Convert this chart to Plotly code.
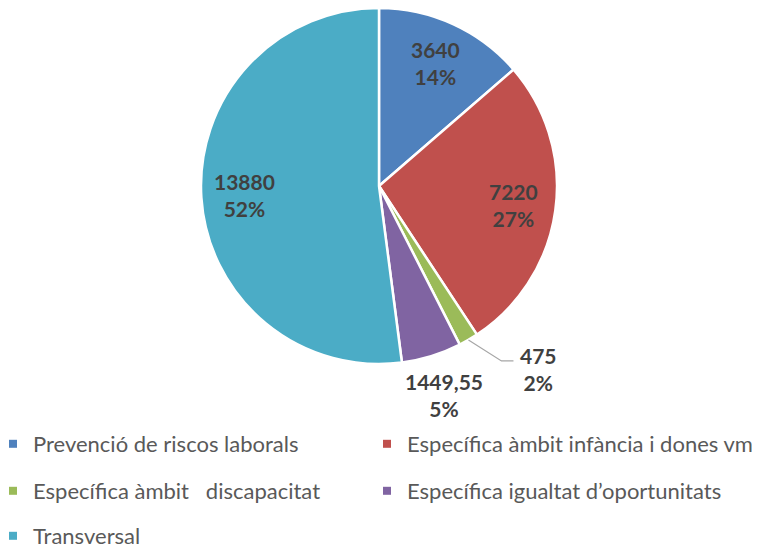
import math
import plotly.graph_objects as go

categories = [
    "Prevenció de riscos laborals",
    "Específica àmbit infància i dones vm",
    "Específica àmbit   discapacitat",
    "Específica igualtat d’oportunitats",
    "Transversal",
]
values = [3640, 7220, 475, 1449.55, 13880]
colors = ["#4F81BD", "#C0504D", "#9BBB59", "#8064A2", "#4BACC6"]

W, H = 760, 549
OFF = 8  # page offset of the figure inside the browser window
CX, CY, R = 379, 186, 178  # pie centre / radius in window pixels

def px(x):
    return (x - OFF) / W

def py(y):
    return 1 - (y - OFF) / H

fig = go.Figure()
fig.add_trace(go.Pie(
    labels=categories,
    values=values,
    sort=False,
    direction="clockwise",
    rotation=0,
    marker=dict(colors=colors, line=dict(color="white", width=2.5)),
    textinfo="none",
    showlegend=False,
    domain=dict(x=[px(CX - R), px(CX + R)], y=[py(CY + R), py(CY - R)]),
    hoverinfo="label+value+percent",
))

# data labels placed along each slice's mid-angle
total = sum(values)
label_font = dict(family="Lato", size=21, color="#404040")
cum = 0
for i, v in enumerate(values):
    mid = (cum + v / 2) / total * 2 * math.pi
    cum += v
    dx, dy = math.sin(mid), -math.cos(mid)
    txt = "<b>%s</b><br><b>%d%%</b>" % (("%g" % v).replace(".", ","), round(v / total * 100))
    common = dict(showarrow=False, font=label_font, xref="paper", yref="paper",
                  yanchor="middle")
    if v / total > 0.1:
        k = 0.76
        fig.add_annotation(x=px(CX + k * R * dx), y=py(CY + k * R * dy), text=txt,
                           xanchor="center", **common)
    elif v / total > 0.03:
        k = 1.23
        fig.add_annotation(x=px(CX + k * R * dx), y=py(CY + k * R * dy), text=txt,
                           xanchor="center", **common)
    else:
        x0, y0 = CX + R * dx, CY + R * dy
        x1, y1 = x0 + 33, y0 + 21
        x2 = x1 + 12
        fig.add_shape(type="path", xref="paper", yref="paper",
                      path="M %f %f L %f %f L %f %f" % (px(x0), py(y0), px(x1), py(y1), px(x2), py(y1)),
                      line=dict(color="#A6A6A6", width=1.2))
        fig.add_annotation(x=px(x2 + 5), y=py(y1 + 8), text=txt, xanchor="left", **common)

# legend entries: two columns, three rows
legend_ids = ["legend", "legend2", "legend3", "legend4", "legend5"]
legend_x = [0, 374, 0, 374, 0]          # figure pixels
legend_y = [444, 444, 491, 491, 536]    # window pixels
for name, col, leg in zip(categories, colors, legend_ids):
    fig.add_trace(go.Scatter(
        x=[None], y=[None], mode="markers", name=name,
        marker=dict(symbol="square", size=8, color=col),
        legend=leg, showlegend=True, hoverinfo="skip",
    ))

leg_layout = {}
for leg, lx, ly in zip(legend_ids, legend_x, legend_y):
    leg_layout[leg] = dict(orientation="h", xanchor="left", yanchor="middle",
                           x=lx / W, y=py(ly), indentation=-15,
                           font=dict(family="Lato", size=22, color="#595959"),
                           bgcolor="rgba(0,0,0,0)", itemclick=False, itemdoubleclick=False)

fig.update_layout(
    width=W, height=H,
    margin=dict(l=0, r=0, t=0, b=0, autoexpand=False),
    paper_bgcolor="white", plot_bgcolor="white",
    xaxis=dict(visible=False), yaxis=dict(visible=False),
    **leg_layout,
)
fig.write_html("out.html")
